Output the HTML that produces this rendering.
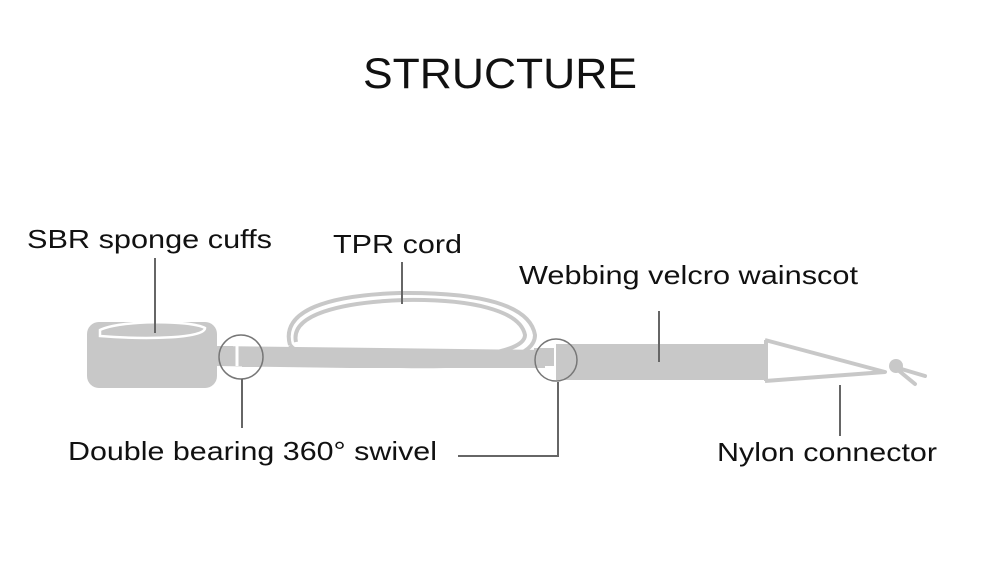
<!DOCTYPE html>
<html><head><style>html,body{margin:0;padding:0;background:#fff;}svg{display:block;}</style></head>
<body>
<svg width="1000" height="570" viewBox="0 0 1000 570" xmlns="http://www.w3.org/2000/svg" font-family="Liberation Sans, sans-serif">
<rect width="1000" height="570" fill="#fff"/>
<text x="363" y="88" font-size="43" textLength="274" lengthAdjust="spacingAndGlyphs" fill="#111">STRUCTURE</text>
<text x="27" y="248" font-size="26" textLength="245" lengthAdjust="spacingAndGlyphs" fill="#111">SBR sponge cuffs</text>
<text x="333" y="253" font-size="26" textLength="129" lengthAdjust="spacingAndGlyphs" fill="#111">TPR cord</text>
<text x="519" y="284" font-size="26" textLength="339" lengthAdjust="spacingAndGlyphs" fill="#111">Webbing velcro wainscot</text>
<text x="68" y="460" font-size="26" textLength="369" lengthAdjust="spacingAndGlyphs" fill="#111">Double bearing 360° swivel</text>
<text x="717" y="461" font-size="26" textLength="220" lengthAdjust="spacingAndGlyphs" fill="#111">Nylon connector</text>

<!-- strap -->
<path d="M215 346 L545 350 L545 368 L350 368 L215 366 Z" fill="#c8c8c8"/>
<!-- cord loop -->
<g fill="none" stroke="#c8c8c8" stroke-width="4">
<path d="M290 345 C280 310 330 295 400 293 C480 292 530 305 535 335 C535 360 480 368 400 366 C330 364 300 358 290 345"/>
<path d="M296 342 C290 315 340 302 405 300 C470 299 520 310 525 335 C525 352 470 360 400 358"/>
<path d="M300 350 C360 362 440 364 525 356"/>
</g>
<!-- cuff -->
<rect x="87" y="322" width="130" height="66" rx="12" fill="#c8c8c8"/>
<path d="M100 330 C120 320 190 320 205 328 C205 338 150 340 100 336 Z" fill="none" stroke="#fff" stroke-width="2.5"/>
<!-- swivel 1 -->
<rect x="218" y="346" width="15" height="18" fill="#c8c8c8"/>
<rect x="242" y="347" width="18" height="20" fill="#c8c8c8"/>
<line x1="237" y1="346" x2="237" y2="366" stroke="#fff" stroke-width="3"/>
<circle cx="241" cy="357" r="22" fill="none" stroke="#777" stroke-width="1.5"/>
<!-- webbing -->
<rect x="534" y="348" width="20" height="18" fill="#c8c8c8"/>
<rect x="556" y="344" width="210" height="36" fill="#c8c8c8"/>
<line x1="555" y1="346" x2="555" y2="366" stroke="#fff" stroke-width="2"/>
<circle cx="556" cy="360" r="21" fill="none" stroke="#777" stroke-width="1.5"/>
<!-- connector -->
<path d="M765 340 L885 372 L765 381" fill="none" stroke="#c8c8c8" stroke-width="4" stroke-linejoin="round"/>
<line x1="766" y1="340" x2="766" y2="381" stroke="#c8c8c8" stroke-width="4"/>
<circle cx="896" cy="366" r="7" fill="#c8c8c8"/>
<path d="M898 368 L925 376 M898 370 L915 384" stroke="#c8c8c8" stroke-width="4" stroke-linecap="round"/>
<!-- leader lines -->
<g stroke="#666" stroke-width="2">
<line x1="155" y1="258" x2="155" y2="333"/>
<line x1="402" y1="262" x2="402" y2="304"/>
<line x1="659" y1="311" x2="659" y2="362"/>
<line x1="840" y1="385" x2="840" y2="436"/>
<line x1="242" y1="379" x2="242" y2="428"/>
<polyline points="458,456 558,456 558,382" fill="none"/>
</g>
</svg>
</body></html>
